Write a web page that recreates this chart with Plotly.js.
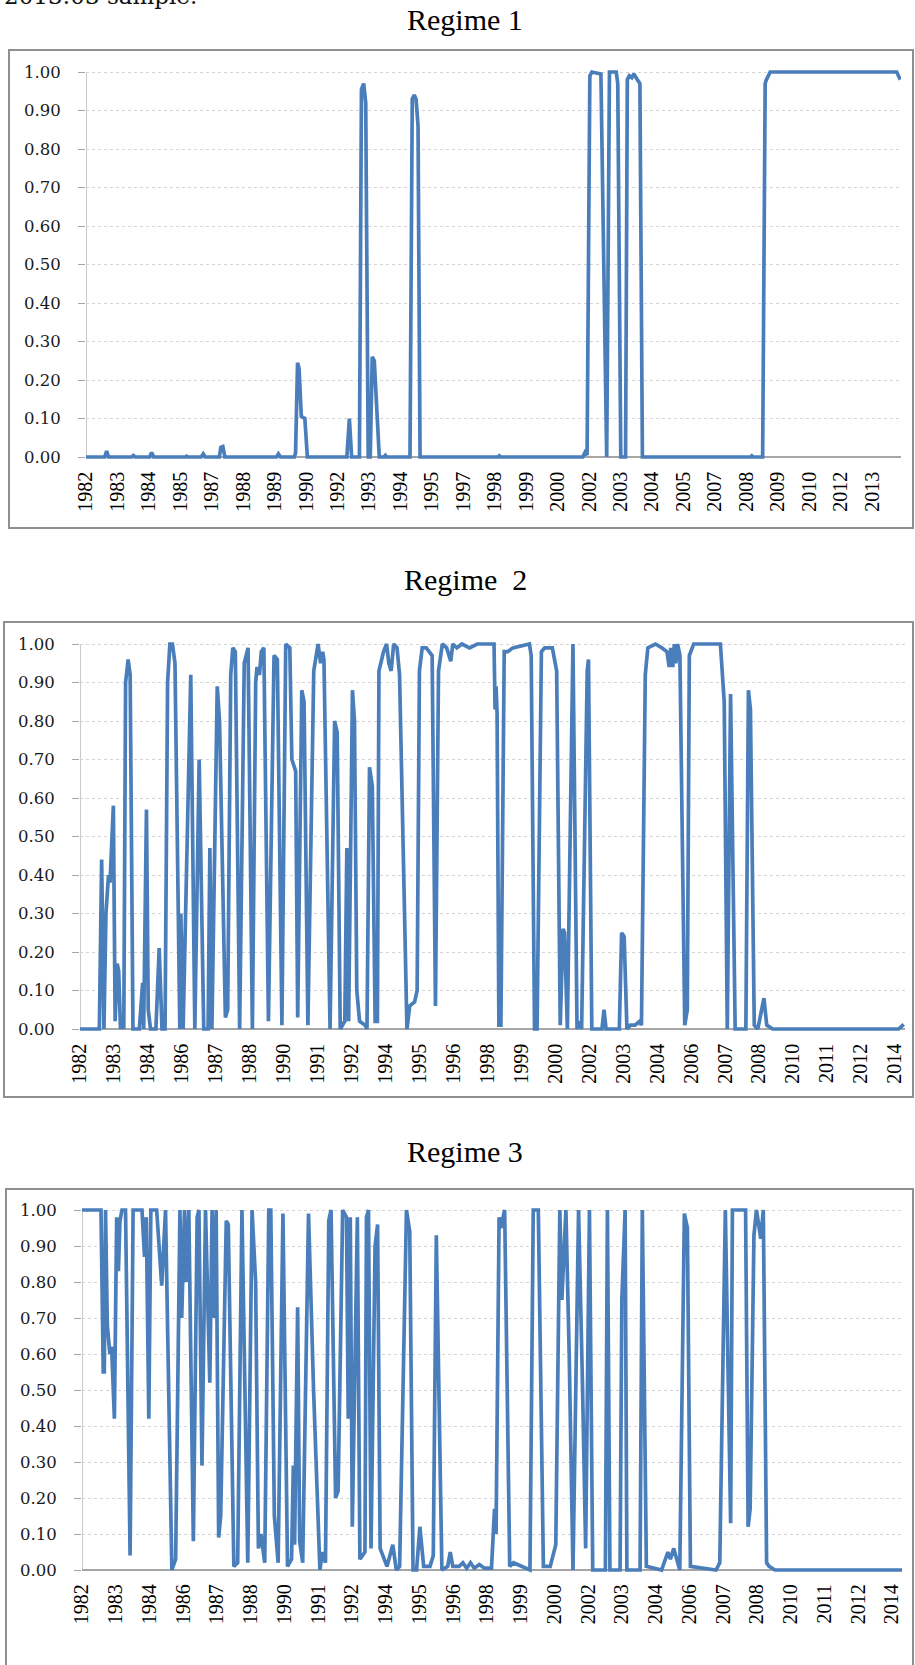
<!DOCTYPE html>
<html>
<head>
<meta charset="utf-8">
<script src="https://cdn.plot.ly/plotly-3.0.1.min.js"></script>
<style>html,body{margin:0;padding:0;background:#fff;}#chart{width:915px;height:1665px;}</style>
</head>
<body>
<div id="chart"></div>
<script>
// ---------------- DATA (smoothed probabilities, time in decimal years) ----------------
const regime1Time = [1982.00,1982.74,1982.82,1982.90,1983.82,1983.88,1983.95,1984.53,1984.61,1984.69,1985.95,1986.00,1986.05,1986.58,1986.66,1986.74,1987.30,1987.36,1987.44,1987.52,1989.57,1989.65,1989.73,1990.28,1990.33,1990.41,1990.47,1990.56,1990.70,1990.80,1992.37,1992.47,1992.56,1992.87,1992.95,1993.04,1993.12,1993.22,1993.30,1993.38,1993.46,1993.66,1993.85,1993.90,1993.95,1994.88,1994.97,1995.05,1995.12,1995.20,1995.28,1998.38,1998.43,1998.48,2001.75,2001.84,2001.92,2002.03,2002.11,2002.47,2002.70,2002.81,2003.08,2003.14,2003.26,2003.45,2003.52,2003.60,2003.70,2003.78,2003.92,2004.02,2004.12,2007.56,2007.61,2007.66,2008.42,2008.47,2008.52,2008.90,2009.00,2009.05,2009.20,2014.23,2014.37];
const regime1Prob = [0,0,0.015,0,0,0.004,0,0,0.012,0,0,0.002,0,0,0.008,0,0,0.025,0.027,0,0,0.008,0,0,0.01,0.245,0.23,0.105,0.10,0,0,0.10,0,0,0.955,0.97,0.92,0,0,0.26,0.25,0,0,0.004,0,0,0.93,0.94,0.93,0.86,0,0,0.003,0,0,0.012,0.005,0.99,1.0,0.995,0,1.0,1.0,0.97,0,0,0.98,0.99,0.985,0.995,0.98,0.97,0,0,0.002,0,0,0.003,0,0,0.97,0.98,1.0,1.0,0.98];

const regime2Time = [1982.00,1982.76,1982.85,1982.90,1982.94,1983.02,1983.12,1983.18,1983.31,1983.38,1983.46,1983.52,1983.59,1983.66,1983.72,1983.79,1983.89,1983.97,1984.08,1984.33,1984.40,1984.46,1984.50,1984.61,1984.68,1984.77,1984.98,1985.11,1985.22,1985.34,1985.44,1985.53,1985.63,1985.73,1985.92,1985.96,1986.05,1986.35,1986.51,1986.68,1986.86,1987.03,1987.10,1987.18,1987.39,1987.48,1987.71,1987.80,1987.92,1988.00,1988.10,1988.27,1988.45,1988.60,1988.77,1988.90,1988.95,1989.05,1989.12,1989.22,1989.40,1989.62,1989.75,1989.93,1990.08,1990.24,1990.32,1990.47,1990.55,1990.71,1990.80,1990.95,1991.18,1991.35,1991.45,1991.53,1991.58,1991.82,1992.00,1992.10,1992.22,1992.40,1992.48,1992.55,1992.70,1992.78,1992.87,1992.98,1993.20,1993.27,1993.37,1993.48,1993.59,1993.68,1993.74,1993.92,1994.04,1994.13,1994.22,1994.32,1994.45,1994.55,1994.84,1994.95,1995.14,1995.24,1995.33,1995.44,1995.60,1995.83,1995.96,1996.08,1996.23,1996.40,1996.56,1996.64,1996.80,1997.00,1997.30,1997.60,1998.26,1998.30,1998.34,1998.38,1998.45,1998.53,1998.66,1998.80,1999.00,1999.65,1999.72,1999.85,1999.95,2000.12,2000.25,2000.55,2000.72,2000.86,2000.97,2001.03,2001.14,2001.36,2001.52,2001.60,2001.70,2001.92,2001.97,2002.10,2002.50,2002.58,2002.66,2003.18,2003.27,2003.37,2003.48,2003.62,2003.80,2003.98,2004.05,2004.20,2004.30,2004.60,2004.85,2005.05,2005.14,2005.20,2005.28,2005.34,2005.40,2005.47,2005.56,2005.75,2005.85,2005.93,2006.10,2007.15,2007.30,2007.42,2007.55,2007.73,2008.15,2008.25,2008.33,2008.48,2008.62,2008.86,2008.97,2009.20,2014.15,2014.35];
const regime2Prob = [0,0,0.44,0.05,0,0.30,0.40,0.38,0.58,0.02,0.17,0.15,0,0.02,0,0.90,0.96,0.92,0,0,0.06,0.12,0,0.57,0.05,0,0,0.21,0,0,0.90,1.0,1.0,0.95,0,0.30,0,0.92,0,0.70,0,0,0.47,0,0.89,0.80,0.03,0.05,0.92,0.99,0.98,0,0.95,0.99,0,0.90,0.94,0.92,0.98,0.99,0.02,0.97,0.96,0.01,1.0,0.99,0.70,0.67,0.03,0.88,0.85,0.01,0.93,1.0,0.95,0.98,0.96,0,0.80,0.77,0,0.02,0.47,0.02,0.88,0.80,0.10,0.02,0.01,0,0.68,0.63,0.02,0.02,0.93,0.98,1.0,0.95,0.93,1.0,0.99,0.92,0,0.06,0.07,0.10,0.93,0.99,0.99,0.97,0.06,0.93,1.0,0.99,0.955,1.0,0.99,1.0,0.99,1.0,1.0,0.83,0.89,0.82,0.01,0.01,0.98,0.98,0.99,1.0,0.97,0,0,0.98,0.99,0.99,0.93,0.01,0.26,0.25,0,1.0,0,0.02,0,0.93,0.96,0,0,0.05,0,0,0.25,0.24,0,0.01,0.01,0.02,0.01,0.92,0.99,1.0,0.99,0.98,0.94,0.99,0.94,1.0,0.95,1.0,0.97,0.01,0.05,0.97,1.0,1.0,0.85,0,0.87,0,0,0.88,0.83,0.01,0,0.08,0.01,0,0,0.012];

const regime3Time = [1982.00,1982.75,1982.84,1982.88,1982.93,1983.00,1983.10,1983.17,1983.28,1983.37,1983.44,1983.50,1983.58,1983.72,1983.90,1984.02,1984.37,1984.47,1984.54,1984.64,1984.72,1984.95,1985.15,1985.30,1985.55,1985.70,1985.87,1985.94,1986.05,1986.12,1986.22,1986.40,1986.55,1986.62,1986.74,1986.88,1987.05,1987.14,1987.22,1987.30,1987.40,1987.48,1987.70,1987.78,1988.00,1988.15,1988.32,1988.55,1988.72,1988.86,1988.97,1989.07,1989.22,1989.38,1989.46,1989.60,1989.75,1989.94,1990.12,1990.28,1990.35,1990.40,1990.52,1990.60,1990.72,1990.95,1991.15,1991.40,1991.50,1991.62,1991.75,1991.84,1992.02,1992.12,1992.30,1992.45,1992.52,1992.60,1992.68,1992.88,1992.98,1993.18,1993.24,1993.32,1993.42,1993.58,1993.68,1993.78,1994.05,1994.18,1994.28,1994.42,1994.55,1994.82,1994.95,1995.08,1995.22,1995.35,1995.50,1995.75,1995.88,1996.00,1996.22,1996.45,1996.55,1996.65,1996.90,1997.05,1997.20,1997.35,1997.50,1997.70,1997.90,1998.18,1998.30,1998.36,1998.48,1998.55,1998.70,1998.90,1999.05,1999.70,1999.83,2000.03,2000.23,2000.50,2000.72,2000.88,2000.96,2001.12,2001.25,2001.40,2001.62,2001.78,2001.90,2002.05,2002.18,2002.68,2002.76,2002.86,2003.26,2003.33,2003.46,2003.53,2004.05,2004.14,2004.30,2004.90,2005.15,2005.25,2005.38,2005.62,2005.80,2005.92,2006.04,2007.05,2007.20,2007.42,2007.63,2007.70,2008.22,2008.32,2008.40,2008.55,2008.65,2008.82,2008.92,2009.05,2009.15,2009.38,2014.40];
const regime3Prob = [1.0,1.0,0.55,0.55,1.0,0.68,0.60,0.62,0.42,0.98,0.83,0.97,1.0,1.0,0.04,1.0,1.0,0.87,0.98,0.42,1.0,1.0,0.79,1.0,0,0.03,1.0,0.70,1.0,0.80,1.0,0.08,0.98,1.0,0.29,1.0,0.52,1.0,0.70,1.0,0.09,0.15,0.97,0.96,0.01,0.02,1.0,0.02,1.0,0.80,0.06,0.10,0.02,1.0,1.0,0.15,0.02,0.99,0.01,0.03,0.29,0.07,0.73,0.08,0.02,0.99,0.50,0,0.05,0.02,0.97,1.0,0.20,0.22,1.0,0.98,0.42,0.98,0.12,0.98,0.03,0.05,0.98,1.0,0.06,0.90,0.96,0.06,0.01,0.05,0.07,0,0.01,1.0,0.94,0,0,0.12,0.01,0.01,0.04,0.93,0,0.01,0.05,0.01,0.01,0.02,0.005,0.02,0.005,0.015,0.005,0.005,0.17,0.10,0.98,0.95,1.0,0.01,0.02,0,1.0,1.0,0.01,0.01,0.07,1.0,0.75,1.0,0.60,0,1.0,0.5,0.06,1.0,0,0,1.0,0,0,0.75,1.0,0,0,1.0,0.01,0,0.05,0.03,0.06,0,0.99,0.95,0.01,0,0.02,1.0,0.13,1.0,1.0,0.12,0.17,0.93,1.0,0.92,1.0,0.02,0.01,0,0];

// x-axis category labels (one label every 15 months in panel 1, every 16 months in panels 2 and 3)
const regime1TickLabels = ['1982','1983','1984','1985','1987','1988','1989','1990','1992','1993','1994','1995','1997','1998','1999','2000','2002','2003','2004','2005','2007','2008','2009','2010','2012','2013'];
const regime1TickStepMonths = 15;
const regime23TickLabels = ['1982','1983','1984','1986','1987','1988','1990','1991','1992','1994','1995','1996','1998','1999','2000','2002','2003','2004','2006','2007','2008','2010','2011','2012','2014'];
const regime23TickStepMonths = 16;
const yTicks = [0,0.1,0.2,0.3,0.4,0.5,0.6,0.7,0.8,0.9,1.0];
const panelTitles = ['Regime 1', 'Regime \u00a02', 'Regime 3'];
const startYear = 1982;

// ---------------- LAYOUT ----------------
const W = 915, H = 1665;
const lineColor = '#4a7ebb';
const yLo = -0.02, yHi = 1.02;
const xEnd = 2014.40;

function tickPos(labels, step){ return labels.map((_, i) => startYear + i*step/12); }
function xDom(l, r){ return [l/W, r/W]; }
function yDom(pTop, pBottom){
  const ppu = pBottom - pTop;
  const top = pTop - (yHi-1)*ppu, bot = pBottom + (-yLo)*ppu;
  return [1 - bot/H, 1 - top/H];
}
const panels = [
  {x:[86,901], y:[72,457], tl:regime1TickLabels, step:regime1TickStepMonths, t:regime1Time, p:regime1Prob, title:19, frame:[9,50,913,528]},
  {x:[80,905], y:[644,1029], tl:regime23TickLabels, step:regime23TickStepMonths, t:regime2Time, p:regime2Prob, title:579, frame:[4,622,913,1097]},
  {x:[82,902], y:[1210,1570], tl:regime23TickLabels, step:regime23TickStepMonths, t:regime3Time, p:regime3Prob, title:1151, frame:[6,1189,913,1700]}
];

const data = [];
const layout = {
  width: W, height: H, margin:{l:0,r:0,t:0,b:0},
  paper_bgcolor:'#ffffff', plot_bgcolor:'rgba(0,0,0,0)',
  showlegend:false, shapes:[], annotations:[]
};
panels.forEach((pn, i) => {
  const k = i===0 ? '' : String(i+1);
  data.push({x: pn.t, y: pn.p, type:'scatter', mode:'lines', xaxis:'x'+k, yaxis:'y'+k,
    line:{color:lineColor, width:3.7}, hoverinfo:'skip'});
  layout['xaxis'+k] = {
    domain: xDom(pn.x[0], pn.x[1]), anchor:'y'+k, range:[startYear, xEnd],
    tickmode:'array', tickvals: tickPos(pn.tl, pn.step), ticktext: pn.tl,
    tickangle:-90, tickfont:{family:'Liberation Serif', size:20, color:'#000'},
    showgrid:false, zeroline:false, showline:false, ticks:'', ticklabelstandoff:2, fixedrange:true
  };
  layout['yaxis'+k] = {
    domain: yDom(pn.y[0], pn.y[1]), anchor:'x'+k, range:[yLo, yHi],
    tickmode:'array', tickvals:yTicks, tickformat:'.2f',
    tickfont:{family:'DejaVu Serif', size:16.5, color:'#1a1a1a'},
    ticks:'outside', ticklen:7, tickcolor:'#a6a6a6', tickwidth:1,
    showgrid:true, gridcolor:'#d4d4d4', griddash:'dot', gridwidth:1,
    zeroline:true, zerolinecolor:'#a6a6a6', zerolinewidth:1.2,
    showline:false, ticklabelstandoff:14, fixedrange:true
  };
  layout.shapes.push({type:'line', xref:'x'+k, yref:'y'+k, x0:startYear, x1:startYear, y0:0, y1:1,
    line:{color:'#a6a6a6', width:1.2}, layer:'below'});
  const f = pn.frame;
  layout.shapes.push({type:'rect', xref:'paper', yref:'paper', x0:f[0]/W, x1:f[2]/W, y0:1-f[3]/H, y1:1-f[1]/H,
    line:{color:'#8f8f8f', width:2}, fillcolor:'rgba(0,0,0,0)', layer:'below'});
  layout.annotations.push({text: panelTitles[i], xref:'paper', yref:'paper', x:465/W, y:1-pn.title/H,
    xanchor:'center', yanchor:'middle', showarrow:false,
    font:{family:'Liberation Serif', size:30, color:'#000'}});
});
// caption line of the surrounding page, cut by the top edge of the picture
layout.annotations.push({text:'1982:01\u20132013:03 sample.', xref:'paper', yref:'paper', x:199/W, y:1+4/H,
  xanchor:'right', yanchor:'middle', showarrow:false, font:{family:'DejaVu Serif', size:23, color:'#111'}});

Plotly.newPlot('chart', data, layout, {displayModeBar:false, staticPlot:true});
</script>
</body>
</html>
